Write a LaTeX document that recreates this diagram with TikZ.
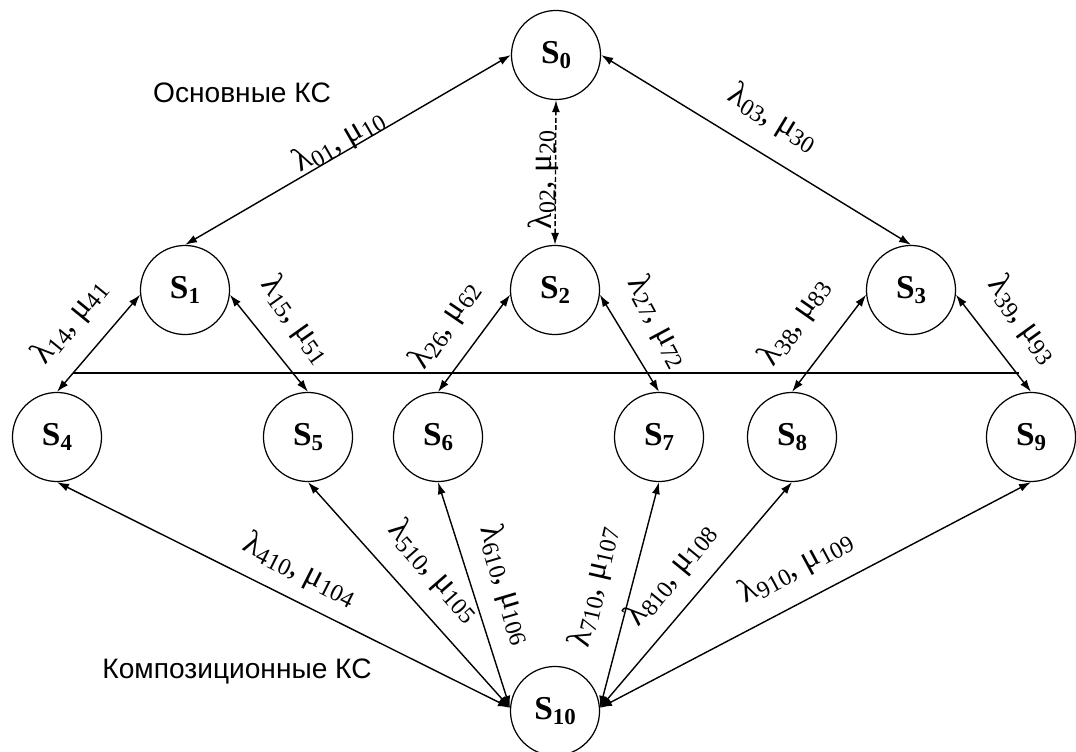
\documentclass[tikz,border=0pt]{standalone}
\usepackage{fontspec}
\setmainfont{Liberation Serif}
\newfontfamily\sansf{Liberation Sans}
\usetikzlibrary{arrows.meta}
\newcommand{\Sn}[1]{{\fontsize{9.5}{10}\selectfont\bfseries S\raisebox{-1.3pt}{\fontsize{6.5}{7}\selectfont\bfseries #1}}}
\newcommand{\LMlab}[2]{{\fontsize{9.5}{10}\selectfont λ\raisebox{-1.2pt}{\fontsize{6.8}{7}\selectfont #1}, μ\raisebox{-1.2pt}{\fontsize{6.8}{7}\selectfont #2}}}
\begin{document}
\begin{tikzpicture}[x=0.01cm, y=-0.01cm,
  state/.style={circle, draw, line width=0.35pt, minimum size=0.89cm, inner sep=0pt},
  edge/.style={line width=0.4pt, {Latex[length=0.12cm,width=0.08cm]}-{Latex[length=0.12cm,width=0.08cm]}},
  dashedge/.style={edge, dash pattern=on 1.4pt off 0.7pt},
  lbl/.style={inner sep=0pt},
  captxt/.style={inner sep=0pt, anchor=base, font=\sansf\fontsize{8}{9}\selectfont},
  hline/.style={line width=0.7pt}]
\useasboundingbox (0,0) rectangle (1076,752);

% states
\node[state] (S0) at (556,55) {\Sn{0}};
\node[state] (S1) at (185,290) {\Sn{1}};
\node[state] (S2) at (555,290) {\Sn{2}};
\node[state] (S3) at (911,290) {\Sn{3}};
\node[state] (S4) at (57,437) {\Sn{4}};
\node[state] (S5) at (308,437) {\Sn{5}};
\node[state] (S6) at (438,437) {\Sn{6}};
\node[state] (S7) at (659,437) {\Sn{7}};
\node[state] (S8) at (792,437) {\Sn{8}};
\node[state] (S9) at (1031,437) {\Sn{9}};
\node[state] (S10) at (555,711) {\Sn{10}};

% captions
\node[captxt] (c1) at (242,103) {Основные КС};
\node[captxt] (c2) at (237,678) {Композиционные КС};

% horizontal separator
\coordinate (hl) at (73,373);
\coordinate (hr) at (1019,373);
\draw[hline] (hl) -- (hr);

% top connectors
\draw[edge] (S1.north) -- (S0.west);
\draw[dashedge] (S2.north) -- (S0.south);
\draw[edge] (S0.east) -- (S3.north);

% middle connectors
\draw[edge] (S4.north) -- (S1.186);
\draw[edge] (S1.-6) -- (S5.north);
\draw[edge] (S6.north) -- (S2.186);
\draw[edge] (S2.-6) -- (S7.north);
\draw[edge] (S8.north) -- (S3.186);
\draw[edge] (S3.-6) -- (S9.north);

% bottom connectors
\draw[edge] (S4.south) -- (S10.176);
\draw[edge] (S5.south) -- (S10.176);
\draw[edge] (S6.south) -- (S10.176);
\draw[edge] (S7.south) -- (S10.4);
\draw[edge] (S8.south) -- (S10.4);
\draw[edge] (S9.south) -- (S10.4);

% labels
\node[lbl, rotate=30] (l01) at (339,141) {\LMlab{01}{10}};
\node[lbl, rotate=90] (l02) at (543,180) {\LMlab{02}{20}};
\node[lbl, rotate=-31.3] (l03) at (773,118) {\LMlab{03}{30}};
\node[lbl, rotate=50.8] (l14) at (70,322) {\LMlab{14}{41}};
\node[lbl, rotate=-54.6] (l15) at (296,320) {\LMlab{15}{51}};
\node[lbl, rotate=55.8] (l26) at (445,325) {\LMlab{26}{62}};
\node[lbl, rotate=-61.8] (l27) at (658,322) {\LMlab{27}{72}};
\node[lbl, rotate=55] (l38) at (795,322) {\LMlab{38}{83}};
\node[lbl, rotate=-54.2] (l39) at (1023,320) {\LMlab{39}{93}};
\node[lbl, rotate=-26.8] (l410) at (300,570) {\LMlab{410}{104}};
\node[lbl, rotate=-48.8] (l510) at (434,571) {\LMlab{510}{105}};
\node[lbl, rotate=-73.5] (l610) at (506,585) {\LMlab{610}{106}};
\node[lbl, rotate=77] (l710) at (594,587) {\LMlab{710}{107}};
\node[lbl, rotate=50.7] (l810) at (671,575) {\LMlab{810}{108}};
\node[lbl, rotate=28.2] (l910) at (796,567) {\LMlab{910}{109}};
\end{tikzpicture}
\end{document}
